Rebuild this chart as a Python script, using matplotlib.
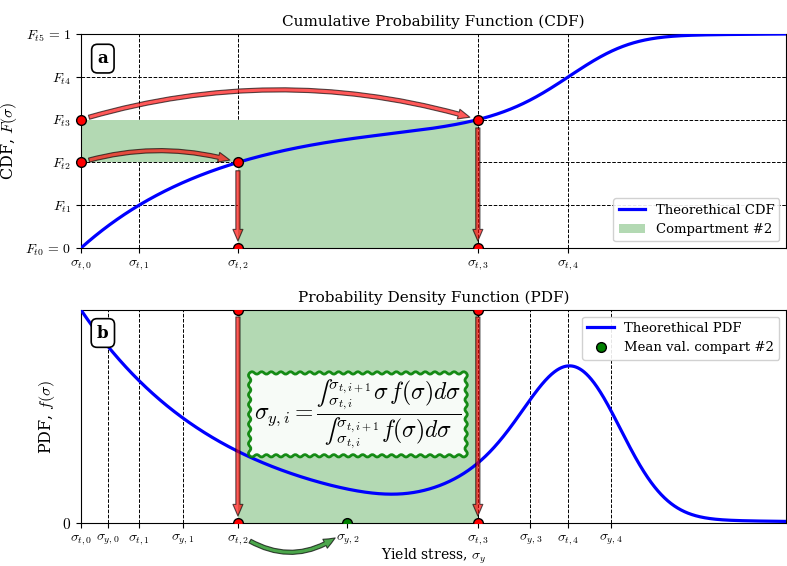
import math
import numpy as np
import matplotlib
matplotlib.use("Agg")
import matplotlib.pyplot as plt
from matplotlib.patches import FancyArrowPatch
from matplotlib.lines import Line2D

plt.rcParams['font.family'] = ['DejaVu Serif']
plt.rcParams['mathtext.fontset'] = 'cm'

# ---- distribution parameters ----
x_max = 700.0
exp_scale = 143.0          # decaying (exponential) component
exp_weight = 0.60
sn_loc = 521.0             # main skewed bell component
sn_scale = 64.5
sn_alpha = -1.2
shoulder_mean = 385.0      # small shoulder on the left of the bell
shoulder_sd = 45.0
shoulder_weight = 0.03
cdf_levels = [0.0, 0.2, 0.4, 0.6, 0.8, 1.0]
compartment = 2

F_labels = [r'$F_{t0}\,=\,0$', r'$F_{t1}$', r'$F_{t2}$', r'$F_{t3}$', r'$F_{t4}$', r'$F_{t5}\,=\,1$']
t_labels = [r'$\sigma_{t,%d}$' % i for i in range(5)]
y_labels = [r'$\sigma_{y,%d}$' % i for i in range(5)]

# ---- theoretical curves ----
x = np.linspace(0, x_max, 3001)
erf = np.vectorize(math.erf)
z = (x - sn_loc) / sn_scale
sn_pdf = 2.0 / sn_scale * np.exp(-0.5 * z**2) / np.sqrt(2 * np.pi) * 0.5 * (1 + erf(sn_alpha * z / np.sqrt(2)))
exp_pdf = np.exp(-x / exp_scale) / exp_scale
sh_pdf = np.exp(-0.5 * ((x - shoulder_mean) / shoulder_sd) ** 2) / (shoulder_sd * np.sqrt(2 * np.pi))
pdf = (exp_weight * exp_pdf + shoulder_weight * sh_pdf
       + (1 - exp_weight - shoulder_weight) * sn_pdf)
cdf = np.concatenate([[0], np.cumsum(0.5 * (pdf[1:] + pdf[:-1]) * np.diff(x))])
pdf = pdf / cdf[-1]
cdf = cdf / cdf[-1]

sig_t = np.interp(cdf_levels[:-1], cdf, x)
sig_t[0] = 0.0
edges = list(sig_t) + [x_max]
sig_y = []
for i in range(5):
    m = (x >= edges[i]) & (x <= edges[i + 1])
    sig_y.append(np.trapezoid(x[m] * pdf[m], x[m]) / np.trapezoid(pdf[m], x[m]))
sig_y = np.array(sig_y)

green_fill = '#b3d9b3'

fig = plt.figure(figsize=(7.87, 5.66), dpi=100)
ax1 = fig.add_axes([81 / 787, 1 - 248 / 566, 705 / 787, 214 / 566])
ax2 = fig.add_axes([81 / 787, 1 - 523 / 566, 705 / 787, 213 / 566])

grid_kw = dict(color='black', linestyle='--', linewidth=0.7)

# ---------------- CDF panel ----------------
a, b = sig_t[compartment], sig_t[compartment + 1]
Fa, Fb = cdf_levels[compartment], cdf_levels[compartment + 1]
ax1.fill_between([0, a], Fa, Fb, color=green_fill, lw=0, zorder=1)
ax1.fill_between([a, b], 0, Fb, color=green_fill, lw=0, zorder=1, label=f'Compartment #{compartment}')
ax1.plot(x, cdf, color='blue', lw=2.3, zorder=3, label='Theorethical CDF')
ax1.set_xlim(0, x_max)
ax1.set_ylim(0, 1)
ax1.set_xticks(sig_t)
ax1.set_xticklabels(t_labels, fontsize=10)
ax1.set_yticks(cdf_levels)
ax1.set_yticklabels(F_labels, fontsize=10)
ax1.grid(True, **grid_kw)
ax1.set_axisbelow(True)
ax1.set_ylabel(r'CDF, $F(\sigma)$', fontsize=11.5)
ax1.set_title('Cumulative Probability Function (CDF)', fontsize=11, pad=6)

def red_arrow(ax, p0, p1, rad=0.0, sa=6, sb=6, color='red'):
    ar = FancyArrowPatch(p0, p1, connectionstyle=f'arc3,rad={rad}',
                         arrowstyle='simple,head_length=0.7,head_width=0.6,tail_width=0.25',
                         mutation_scale=12, fc=color, ec='black', lw=0.8, alpha=0.65,
                         shrinkA=sa, shrinkB=sb, zorder=5, clip_on=False)
    ax.add_patch(ar)

red_arrow(ax1, (0, Fb), (b, Fb), rad=-0.15)
red_arrow(ax1, (0, Fa), (a, Fa), rad=-0.15)
red_arrow(ax1, (a, Fa), (a, 0), sa=6, sb=5)
red_arrow(ax1, (b, Fb), (b, 0), sa=6, sb=5)

mk = dict(marker='o', ms=7, mfc='red', mec='black', mew=1.0, ls='none', zorder=6)
ax1.plot([0, 0], [Fa, Fb], clip_on=False, **mk)
ax1.plot([a, b], [Fa, Fb], clip_on=False, **mk)
ax1.plot([a, b], [0, 0], clip_on=True, **mk)

ax1.text(0.031, 0.885, 'a', transform=ax1.transAxes, fontsize=12, fontweight='bold',
         ha='center', va='center', zorder=7,
         bbox=dict(boxstyle='round,pad=0.35', fc='white', ec='black', lw=1.2))
h, l = ax1.get_legend_handles_labels()
ax1.legend([h[1], h[0]], [l[1], l[0]], loc='lower right', fontsize=9.5, framealpha=0.9)

# ---------------- PDF panel ----------------
pmax = pdf.max()
ax2.axvspan(a, b, color=green_fill, lw=0, zorder=1)
ax2.plot(x, pdf, color='blue', lw=2.3, zorder=3, label='Theorethical PDF')
ax2.set_xlim(0, x_max)
ax2.set_ylim(0, pmax)
ticks2 = np.ravel(np.column_stack([sig_t, sig_y]))
labels2 = [lab for pair in zip(t_labels, y_labels) for lab in pair]
ax2.set_xticks(ticks2)
ax2.set_xticklabels(labels2, fontsize=10)
ax2.set_yticks([0])
ax2.set_yticklabels([r'$0$'], fontsize=11)
ax2.grid(True, **grid_kw)
ax2.set_axisbelow(True)
ax2.set_ylabel(r'PDF, $f(\sigma)$', fontsize=11.5)
ax2.set_xlabel(r'Yield stress, $\sigma_y$', fontsize=10, labelpad=0)
ax2.set_title('Probability Density Function (PDF)', fontsize=11, pad=6)

red_arrow(ax2, (a, pmax), (a, 0), sa=5, sb=5)
red_arrow(ax2, (b, pmax), (b, 0), sa=5, sb=5)
ax2.plot([a, b, a, b], [pmax, pmax, 0, 0], clip_on=True, **mk)
ax2.plot([sig_y[compartment]], [0], marker='o', ms=7, mfc='green', mec='black', mew=1.0,
         ls='none', zorder=6, clip_on=True)

ga = FancyArrowPatch((a + 12, -0.085 * pmax), (sig_y[compartment] - 12, -0.07 * pmax),
                     connectionstyle='arc3,rad=0.3',
                     arrowstyle='simple,head_length=0.7,head_width=0.6,tail_width=0.25',
                     mutation_scale=12, fc='green', ec='black', lw=0.8, alpha=0.7,
                     shrinkA=0, shrinkB=0, zorder=5, clip_on=False)
ax2.add_patch(ga)

ax2.text(0.031, 0.892, 'b', transform=ax2.transAxes, fontsize=12, fontweight='bold',
         ha='center', va='center', zorder=7,
         bbox=dict(boxstyle='round,pad=0.35', fc='white', ec='black', lw=1.2))

eq = ('$\\sigma_{y,i} = \\dfrac{\u222b_{\\sigma_{t,i}}^{\\sigma_{t,i+1}} \\sigma\\, f(\\sigma) d\\sigma}'
      '{\u222b_{\\sigma_{t,i}}^{\\sigma_{t,i+1}} f(\\sigma) d\\sigma}$')
ax2.text((a + b) / 2, 0.51 * pmax, eq, fontsize=17, ha='center', va='center', zorder=8,
         bbox=dict(boxstyle='roundtooth,pad=0.3,tooth_size=0.2', fc='white', ec='green', lw=2, alpha=0.9))

handles2 = [Line2D([], [], color='blue', lw=2.3),
            Line2D([], [], marker='o', ms=7, mfc='green', mec='black', ls='none')]
ax2.legend(handles2, ['Theorethical PDF', f'Mean val. compart #{compartment}'],
           loc='upper right', fontsize=9.5, framealpha=0.9)

fig.savefig('out.png', dpi=100)
